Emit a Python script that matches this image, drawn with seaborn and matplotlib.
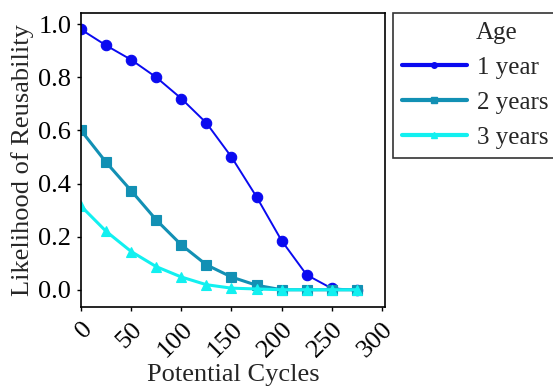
import matplotlib
matplotlib.use("Agg")
import matplotlib.pyplot as plt
import seaborn as sns
import pandas as pd
from matplotlib.lines import Line2D
from matplotlib.transforms import ScaledTranslation

cycles = [0, 25, 50, 75, 100, 125, 150, 175, 200, 225, 250, 275]
one_year = [0.98, 0.92, 0.866, 0.80, 0.72, 0.628, 0.50, 0.35, 0.185, 0.056, 0.005, 0.0]
two_years = [0.60, 0.48, 0.373, 0.263, 0.169, 0.094, 0.048, 0.017, 0.0, 0.0, 0.0, 0.0]
three_years = [0.315, 0.22, 0.144, 0.087, 0.048, 0.019, 0.006, 0.003, 0.0, 0.0, 0.0, 0.0]
ages = ["1 year", "2 years", "3 years"]
x_ticks = [0, 50, 100, 150, 200, 250, 300]
y_ticks = [0.0, 0.2, 0.4, 0.6, 0.8, 1.0]

colors = {"1 year": "#0a0af0", "2 years": "#1290b4", "3 years": "#12f0f0"}
markers = {"1 year": "o", "2 years": "s", "3 years": "^"}
widths = {"1 year": 1.4, "2 years": 2.2, "3 years": 2.2}

df = pd.DataFrame({
    "Potential Cycles": cycles * 3,
    "Likelihood": one_year + two_years + three_years,
    "Age": [ages[0]] * len(cycles) + [ages[1]] * len(cycles) + [ages[2]] * len(cycles),
})

sns.set_style("white")
plt.rcParams["font.family"] = ["Liberation Serif", "DejaVu Serif"]

fig = plt.figure(figsize=(5.53, 3.92), dpi=100)
ax = fig.add_axes([0.1465, 0.2168, 0.696 - 0.1465, 0.9668 - 0.2168])

for age in ages:
    sub = df[df["Age"] == age]
    sns.lineplot(data=sub, x="Potential Cycles", y="Likelihood", ax=ax,
                 color=colors[age], marker=markers[age], markersize=7.5,
                 markeredgewidth=0.8, markeredgecolor=colors[age],
                 linewidth=widths[age], legend=False)

ax.set_xlim(0, 303)
ax.set_ylim(-0.065, 1.042)
ax.set_xticks(x_ticks)
ax.set_yticks(y_ticks)
ax.set_yticklabels([f"{v:.1f}" for v in y_ticks])
ax.set_xticklabels([str(v) for v in x_ticks], rotation=45, ha="right",
                   rotation_mode="anchor")
ax.tick_params(axis="both", which="major", direction="out", length=3, width=1,
               labelsize=19, colors="black", left=True, bottom=True,
               top=False, right=False, pad=4)
ax.tick_params(axis="x", pad=5)
for s in ax.spines.values():
    s.set_visible(True)
    s.set_color("black")
    s.set_linewidth(1.2)
ax.set_xlabel("Potential Cycles", fontsize=19, labelpad=2)
ax.set_ylabel("Likelihood of Reusability", fontsize=19, labelpad=3)
ax.grid(False)

handles = [Line2D([0], [0], color=colors[a], marker=markers[a], markersize=4,
                  linewidth=3) for a in ages]
leg = fig.legend(handles, ages, title="Age", loc="upper left",
                 bbox_to_anchor=(393 / 553, 1 - 13 / 392), fontsize=18,
                 title_fontsize=18, frameon=True, fancybox=False,
                 edgecolor="black", handlelength=2.6, borderpad=0.35,
                 labelspacing=0.5, handletextpad=0.4, borderaxespad=0,
                 alignment="left")
leg.get_frame().set_linewidth(1.2)
title = leg.get_title()
title.set_transform(title.get_transform() + ScaledTranslation(0.74, 0, fig.dpi_scale_trans))

fig.savefig("out.png", dpi=100)
